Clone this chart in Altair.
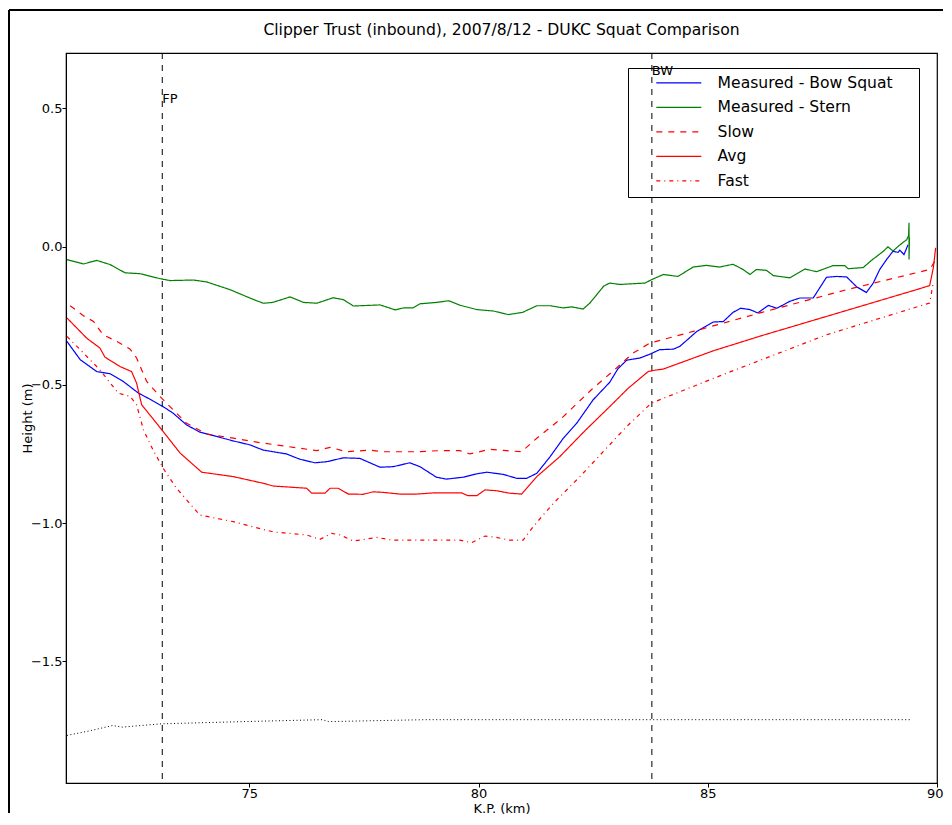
import altair as alt
import pandas as pd

title_text = "Clipper Trust (inbound), 2007/8/12 - DUKC Squat Comparison"
x_title = "K.P. (km)"
y_title = "Height (m)"
x_ticks = [75, 80, 85, 90]
y_ticks = [-1.5, -1.0, -0.5, 0.0, 0.5]

series_names = ["Measured - Bow Squat", "Measured - Stern", "Slow", "Avg", "Fast"]
series_colors = ["#0000ff", "#008000", "#ff0000", "#ff0000", "#ff0000"]
series_dashes = [[1, 0], [1, 0], [6, 6], [1, 0], [4, 4, 1, 4]]

bow_km = [71.02, 71.31, 71.67, 71.96, 72.25, 72.58, 72.83, 73.12, 73.34, 73.63, 73.92, 74.29, 74.65,
          75.01, 75.30, 75.81, 76.10, 76.43, 76.69, 77.05, 77.41, 77.85, 78.14, 78.50, 78.72, 79.08,
          79.30, 79.67, 79.96, 80.18, 80.54, 80.83, 81.05, 81.27, 81.56, 81.85, 82.14, 82.50, 82.86,
          83.04, 83.23, 83.52, 83.74, 83.95, 84.25, 84.39, 84.76, 85.12, 85.34, 85.55, 85.72, 85.92,
          86.09, 86.32, 86.51, 86.79, 87.01, 87.30, 87.59, 87.81, 88.03, 88.25, 88.46, 88.61, 88.75,
          88.90, 89.04, 89.15, 89.19, 89.28, 89.37]
bow_h = [-0.343, -0.409, -0.452, -0.460, -0.488, -0.530, -0.552, -0.579, -0.603, -0.645, -0.671, -0.687,
         -0.703, -0.717, -0.736, -0.750, -0.769, -0.782, -0.778, -0.764, -0.766, -0.798, -0.796, -0.782,
         -0.796, -0.834, -0.841, -0.834, -0.822, -0.816, -0.824, -0.838, -0.838, -0.820, -0.760, -0.693,
         -0.639, -0.554, -0.491, -0.442, -0.411, -0.403, -0.389, -0.373, -0.371, -0.361, -0.307, -0.273,
         -0.271, -0.238, -0.223, -0.228, -0.240, -0.213, -0.223, -0.198, -0.186, -0.186, -0.111, -0.108,
         -0.110, -0.146, -0.166, -0.132, -0.083, -0.047, -0.017, -0.021, -0.013, -0.029, 0.007]

stern_km = [71.02, 71.38, 71.67, 71.96, 72.29, 72.61, 73.05, 73.27, 73.78, 74.07, 74.58, 75.01, 75.30,
            75.51, 75.89, 76.18, 76.47, 76.83, 77.05, 77.27, 77.85, 78.18, 78.36, 78.57, 78.72, 79.08,
            79.35, 79.59, 79.96, 80.32, 80.65, 80.96, 81.27, 81.56, 81.85, 82.03, 82.28, 82.43, 82.73,
            82.86, 83.08, 83.63, 83.77, 84.03, 84.35, 84.68, 84.97, 85.26, 85.55, 85.77, 85.92, 86.06,
            86.28, 86.43, 86.79, 87.12, 87.37, 87.73, 87.99, 88.06, 88.39, 88.57, 88.83, 88.93, 89.04,
            89.19, 89.34, 89.38, 89.39, 89.39, 89.40]
stern_h = [-0.047, -0.063, -0.050, -0.065, -0.095, -0.098, -0.116, -0.123, -0.121, -0.128, -0.156, -0.186,
           -0.205, -0.202, -0.182, -0.202, -0.205, -0.185, -0.192, -0.215, -0.211, -0.229, -0.222, -0.222,
           -0.207, -0.202, -0.196, -0.212, -0.228, -0.233, -0.246, -0.238, -0.214, -0.214, -0.222, -0.218,
           -0.226, -0.204, -0.143, -0.132, -0.137, -0.132, -0.120, -0.101, -0.108, -0.074, -0.068, -0.074,
           -0.064, -0.083, -0.101, -0.083, -0.086, -0.105, -0.113, -0.081, -0.091, -0.069, -0.069, -0.080,
           -0.076, -0.050, -0.017, -0.001, -0.016, 0.006, 0.025, 0.040, 0.086, -0.047, 0.033]

slow_km = [71.09, 71.38, 71.60, 71.81, 72.11, 72.40, 72.54, 72.76, 73.05, 73.34, 73.63, 74.07, 74.65,
           75.23, 75.96, 76.47, 76.76, 77.12, 77.63, 77.92, 78.65, 79.16, 79.59, 79.81, 80.25, 80.61,
           80.94, 81.27, 81.81, 82.46, 83.01, 83.37, 83.74, 84.68, 86.14, 88.03, 89.84, 89.95]
slow_h = [-0.214, -0.250, -0.271, -0.319, -0.343, -0.371, -0.403, -0.488, -0.542, -0.591, -0.639, -0.678,
          -0.693, -0.709, -0.726, -0.738, -0.726, -0.742, -0.736, -0.742, -0.742, -0.738, -0.738, -0.750,
          -0.733, -0.738, -0.742, -0.693, -0.621, -0.518, -0.439, -0.385, -0.349, -0.307, -0.240, -0.156,
          -0.083, -0.054]

avg_km = [71.02, 71.45, 71.74, 71.85, 72.18, 72.43, 72.54, 72.65, 72.83, 73.12, 73.49, 73.96, 74.65,
          75.30, 75.52, 76.25, 76.36, 76.65, 76.76, 76.94, 77.16, 77.48, 77.70, 77.92, 78.28, 78.65,
          79.01, 79.63, 79.77, 79.96, 80.14, 80.39, 80.68, 80.94, 81.27, 81.77, 82.32, 82.86, 83.26,
          83.70, 83.85, 84.03, 85.12, 86.14, 89.55, 89.84, 89.92, 89.97]
avg_h = [-0.258, -0.331, -0.367, -0.400, -0.434, -0.452, -0.494, -0.572, -0.609, -0.669, -0.747, -0.816,
         -0.832, -0.856, -0.866, -0.874, -0.892, -0.892, -0.874, -0.874, -0.895, -0.896, -0.887, -0.889,
         -0.895, -0.895, -0.891, -0.891, -0.901, -0.901, -0.880, -0.883, -0.892, -0.895, -0.832, -0.760,
         -0.666, -0.579, -0.513, -0.452, -0.447, -0.443, -0.377, -0.324, -0.156, -0.141, -0.077, -0.005]

fast_km = [71.02, 71.31, 71.74, 72.14, 72.40, 72.54, 72.69, 72.90, 73.12, 73.41, 73.92, 74.65, 75.52,
           76.25, 76.54, 76.79, 76.98, 77.27, 77.78, 78.14, 78.87, 79.59, 79.85, 80.14, 80.39, 80.68,
           80.97, 81.19, 81.63, 82.21, 83.23, 83.77, 85.41, 87.59, 89.84, 89.91]
fast_h = [-0.325, -0.373, -0.446, -0.530, -0.542, -0.572, -0.663, -0.736, -0.802, -0.874, -0.971, -0.995,
          -1.032, -1.043, -1.059, -1.037, -1.043, -1.065, -1.052, -1.062, -1.062, -1.062, -1.071, -1.047,
          -1.052, -1.062, -1.062, -1.013, -0.929, -0.832, -0.651, -0.566, -0.458, -0.319, -0.204, -0.138]

ref_km = [71.02, 71.50, 72.02, 72.22, 73.08, 74.87, 76.59, 76.73, 78.85, 89.44]
ref_h = [-1.768, -1.752, -1.732, -1.738, -1.726, -1.718, -1.711, -1.718, -1.711, -1.711]

marker_km = [73.10, 83.78]
marker_text = ["FP", "BW"]
marker_text_h = [0.518, 0.622]

FONT = "DejaVu Sans"

rows = []
for name, kms, hs in [
    (series_names[0], bow_km, bow_h),
    (series_names[1], stern_km, stern_h),
    (series_names[2], slow_km, slow_h),
    (series_names[3], avg_km, avg_h),
    (series_names[4], fast_km, fast_h),
]:
    for i, (k, h) in enumerate(zip(kms, hs)):
        rows.append({"series": name, "km": k, "h": h, "idx": i})
df = pd.DataFrame(rows)

ref_df = pd.DataFrame({"km": ref_km, "h": ref_h, "idx": list(range(len(ref_km)))})
marker_df = pd.DataFrame({"km": marker_km, "label": marker_text, "h": marker_text_h})

x_scale = alt.Scale(domain=[71, 90], nice=False, zero=False)
y_scale = alt.Scale(domain=[-1.94, 0.70], nice=False, zero=False)

x_axis = alt.Axis(values=x_ticks, format="d", title=x_title, labelFlush=True, labelFlushOffset=6,
                  grid=False, tickSize=4, labelPadding=0, labelFontSize=13, titleFontSize=13,
                  titleFontWeight="normal", titleBaseline="middle", titleX=435.5, titleY=25,
                  titleAlign="center")
y_axis = alt.Axis(values=y_ticks, format=".1f", title=y_title, grid=False,
                  tickSize=4, labelPadding=0, labelFontSize=13, titleFontSize=13,
                  titleFontWeight="normal", titleBaseline="middle", titleX=-39, titleY=365,
                  titleAlign="center", titleAngle=270)

sym_size = 126.6
sym_w = 13
sym_offset = 42.5 - sym_w / 2
lab_offset = 80 - sym_offset - sym_w

legend = alt.Legend(
    title="\u00a0", titleOrient="right", titlePadding=19, titleFontSize=2,
    orient="none", legendX=562, legendY=15,
    strokeColor="black", fillColor="transparent", padding=7,
    symbolType="M-4,0H4", symbolSize=sym_size, symbolStrokeWidth=1.3, symbolOffset=sym_offset,
    labelOffset=lab_offset, labelFontSize=15.6, labelColor="black", labelFont=FONT,
    rowPadding=7.5, labelLimit=400,
)

lines = alt.Chart(df).mark_line(strokeWidth=1.2, clip=True).encode(
    x=alt.X("km:Q", scale=x_scale, axis=x_axis),
    y=alt.Y("h:Q", scale=y_scale, axis=y_axis),
    color=alt.Color("series:N", scale=alt.Scale(domain=series_names, range=series_colors), legend=legend),
    strokeDash=alt.StrokeDash("series:N", scale=alt.Scale(domain=series_names, range=series_dashes), legend=legend),
    order=alt.Order("idx:Q"),
    detail="series:N",
)

ref_line = alt.Chart(ref_df).mark_line(color="black", strokeWidth=1, strokeDash=[1, 2.5], clip=True).encode(
    x=alt.X("km:Q", scale=x_scale),
    y=alt.Y("h:Q", scale=y_scale),
    order=alt.Order("idx:Q"),
)

vlines = alt.Chart(marker_df).mark_rule(color="black", strokeWidth=1, strokeDash=[6, 6]).encode(
    x=alt.X("km:Q", scale=x_scale),
)

vtext = alt.Chart(marker_df).mark_text(align="left", baseline="alphabetic", fontSize=13, font=FONT,
                                       color="black").encode(
    x=alt.X("km:Q", scale=x_scale),
    y=alt.Y("h:Q", scale=y_scale),
    text="label:N",
)

frame_left = alt.Chart(marker_df.head(1)).mark_rule(color="black", strokeWidth=2).encode(
    x=alt.value(-57), y=alt.value(-43), y2=alt.value(760))
frame_top = alt.Chart(marker_df.head(1)).mark_rule(color="black", strokeWidth=2).encode(
    x=alt.value(-57), x2=alt.value(877), y=alt.value(-43))

chart = alt.layer(vlines, ref_line, lines, vtext, frame_left, frame_top).properties(
    width=871, height=730,
    title=alt.TitleParams(title_text, fontSize=15.6, fontWeight="normal", font=FONT, color="black",
                          anchor="middle", frame="group", offset=0, dy=41.5, baseline="alphabetic"),
    autosize=alt.AutoSizeParams(type="none"),
    padding={"left": 58, "top": 45, "right": 7, "bottom": 34},
).configure(
    font=FONT,
).configure_view(
    stroke="black", strokeWidth=1.2,
).configure_axis(
    domainColor="black", tickColor="black", labelColor="black", titleColor="black",
    labelFont=FONT, titleFont=FONT,
)

chart.save("out.html", embed_options={"renderer": "svg", "actions": False})
